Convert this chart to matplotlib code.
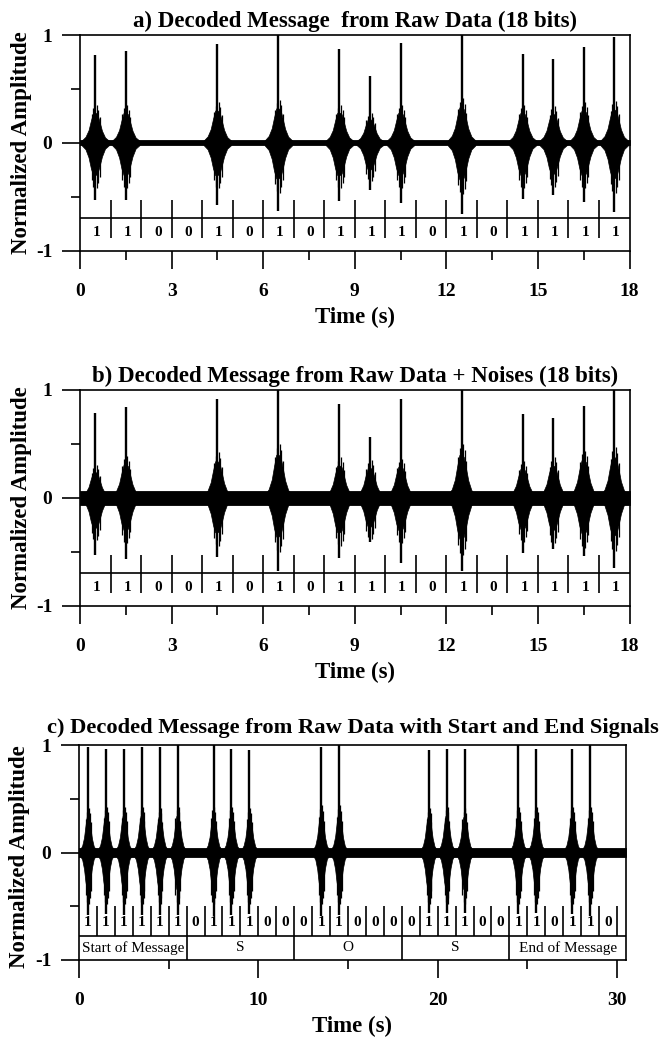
import matplotlib
matplotlib.use("Agg")
import matplotlib.pyplot as plt
import numpy as np

plt.rcParams['font.family'] = ['Liberation Serif', 'DejaVu Serif']
plt.rcParams['axes.unicode_minus'] = False

# ---------------- data ----------------
# panel a / b : 18-bit message
bits_ab = [1, 1, 0, 0, 1, 0, 1, 0, 1, 1, 1, 0, 1, 0, 1, 1, 1, 1]
spike_t_ab = [0.5, 1.5, 4.5, 6.5, 8.5, 9.5, 10.5, 12.5, 14.5, 15.5, 16.5, 17.5]

a_pos_peak = [0.81, 0.85, 0.92, 1.00, 0.87, 0.62, 0.93, 1.00, 0.82, 0.78, 0.89, 0.98]
a_neg_peak = [-0.53, -0.53, -0.58, -0.63, -0.54, -0.44, -0.56, -0.66, -0.52, -0.48, -0.55, -0.64]
a_body_up = [0.28, 0.28, 0.30, 0.32, 0.28, 0.22, 0.28, 0.33, 0.28, 0.27, 0.30, 0.31]
a_body_low = [-0.30, -0.30, -0.30, -0.33, -0.30, -0.25, -0.30, -0.34, -0.30, -0.29, -0.30, -0.33]
a_noise = 0.022

b_pos_peak = [0.79, 0.84, 0.92, 1.00, 0.87, 0.56, 0.92, 1.00, 0.78, 0.74, 0.85, 1.00]
b_neg_peak = [-0.53, -0.57, -0.55, -0.68, -0.56, -0.41, -0.60, -0.68, -0.51, -0.47, -0.54, -0.65]
b_body_up = [0.24, 0.31, 0.34, 0.40, 0.30, 0.28, 0.29, 0.40, 0.27, 0.30, 0.35, 0.38]
b_body_low = [-0.28, -0.30, -0.32, -0.36, -0.32, -0.27, -0.30, -0.38, -0.29, -0.30, -0.33, -0.35]
b_noise = 0.065

# panel c : 30-bit message with start / end signals
bits_c = [1, 1, 1, 1, 1, 1,
          0, 1, 1, 1, 0, 0,
          0, 1, 1, 0, 0, 0,
          0, 1, 1, 1, 0, 0,
          1, 1, 0, 1, 1, 0]
spike_t_c = [0.5, 1.5, 2.5, 3.5, 4.5, 5.5, 7.5, 8.5, 9.5, 13.5, 14.5,
             19.5, 20.5, 21.5, 24.5, 25.5, 27.5, 28.5]
c_pos_peak = [0.98, 0.96, 0.96, 0.98, 0.98, 1.00, 1.00, 0.96, 0.95, 0.98, 1.00,
              0.95, 0.96, 0.96, 1.00, 0.96, 0.96, 1.00]
c_neg_peak = [-0.58, -0.57, -0.58, -0.58, -0.58, -0.58, -0.59, -0.58, -0.57, -0.59, -0.58,
              -0.56, -0.56, -0.56, -0.57, -0.56, -0.57, -0.59]
c_body_up = [0.33, 0.34, 0.34, 0.34, 0.33, 0.34, 0.34, 0.34, 0.33, 0.35, 0.35,
             0.33, 0.34, 0.33, 0.34, 0.34, 0.34, 0.34]
c_body_low = [-0.34, -0.34, -0.34, -0.34, -0.34, -0.34, -0.34, -0.34, -0.34, -0.34, -0.34,
              -0.34, -0.34, -0.34, -0.34, -0.34, -0.34, -0.34]
c_noise = 0.04
msg_labels = ["Start of Message", "S", "O", "S", "End of Message"]
msg_edges = [0, 6, 12, 18, 24, 30.5]

# burst envelope template (offset in s, relative level)
tmpl_off = [-0.45, -0.32, -0.22, -0.14, -0.07, 0.0, 0.07, 0.14, 0.22, 0.32, 0.45]
tmpl_up = [0.07, 0.20, 0.42, 0.75, 1.00, 1.00, 0.95, 0.70, 0.40, 0.18, 0.07]
tmpl_low = [0.07, 0.20, 0.45, 0.80, 1.00, 1.00, 0.95, 0.72, 0.42, 0.18, 0.07]
# secondary comb spikes within a burst (offset in s, relative level)
sub_off = [-0.12, -0.06, 0.05, 0.10, 0.15]
sub_up = [0.95, 1.15, 1.25, 1.10, 0.85]
sub_low = [1.15, 1.35, 1.40, 1.25, 1.05]

titles = ["a) Decoded Message  from Raw Data (18 bits)",
          "b) Decoded Message from Raw Data + Noises (18 bits)",
          "c) Decoded Message from Raw Data with Start and End Signals"]

# ---------------- figure ----------------
W, H = 663, 1037
fig = plt.figure(figsize=(W / 100, H / 100), dpi=100)


def frac(l, t, r, b):
    return [l / W, 1 - b / H, (r - l) / W, (b - t) / H]


ax_a = fig.add_axes(frac(80, 35, 629.5, 250.7))
ax_b = fig.add_axes(frac(80, 390, 629.5, 605.7))
ax_c = fig.add_axes(frac(79, 745, 626, 960))

TICKFS = 14
TITLEFS = 16.5


def draw_signal(ax, xmax, spikes, pos, neg, up, low, noise):
    ax.fill_between([0, xmax], [-noise, -noise], [noise, noise], color='k', lw=0.6)
    off = np.array(tmpl_off)
    for t, p, n, u, l in zip(spikes, pos, neg, up, low):
        ax.fill_between(t + off, l * np.array(tmpl_low), u * np.array(tmpl_up),
                        color='k', lw=0.5)
        ax.vlines(t + np.array(sub_off), l * np.array(sub_low), u * np.array(sub_up),
                  color='k', lw=0.9)
        ax.vlines([t], [n], [p], color='k', lw=1.7)


def style_axes(ax, xmax, major, minor, title, title_pad=6, title_fs=TITLEFS):
    ax.set_xlim(0, xmax)
    ax.set_ylim(-1, 1)
    ax.set_xticks(major)
    ax.set_xticks(minor, minor=True)
    ax.set_yticks([-1, 0, 1])
    ax.set_yticks([-0.5, 0.5], minor=True)
    ax.set_yticklabels(["-1", "0", "1"])
    ax.set_xticklabels([str(v) for v in major])
    ax.tick_params(which='major', direction='out', length=13, width=1.2,
                   labelsize=TICKFS, pad=7)
    ax.tick_params(which='minor', direction='out', length=6.5, width=1.2)
    ax.tick_params(axis='x', which='major', pad=10)
    for lab in ax.get_xticklabels() + ax.get_yticklabels():
        lab.set_fontweight('bold')
    for s in ax.spines.values():
        s.set_linewidth(1.2)
    ax.set_title(title, fontsize=title_fs, fontweight='bold', pad=title_pad)
    ax.set_xlabel("Time (s)", fontsize=TITLEFS, fontweight='bold')
    ax.set_ylabel("Normalized Amplitude", fontsize=TITLEFS, fontweight='bold')
    ax.xaxis.set_label_coords(0.5, -0.26)
    ax.yaxis.set_label_coords(-0.088, 0.5)


# panels a and b
for ax, pos, neg, up, low, noise, title in [
        (ax_a, a_pos_peak, a_neg_peak, a_body_up, a_body_low, a_noise, titles[0]),
        (ax_b, b_pos_peak, b_neg_peak, b_body_up, b_body_low, b_noise, titles[1])]:
    draw_signal(ax, 18, spike_t_ab, pos, neg, up, low, noise)
    ax.hlines([-0.70], 0, 18, color='k', lw=1.2)
    n = len(bits_ab)
    ax.vlines(np.arange(1, n), -0.88, -0.53, color='k', lw=1.2)
    for i, bt in enumerate(bits_ab):
        ax.text(i + 0.55, -0.835, str(bt), ha='center', va='center',
                fontsize=11, fontweight='bold')
    style_axes(ax, 18, list(range(0, 19, 3)), [1.5 + 3 * k for k in range(6)], title)

# panel c
draw_signal(ax_c, 30.5, spike_t_c, c_pos_peak, c_neg_peak, c_body_up, c_body_low, c_noise)
ax_c.hlines([-0.775], 0, 30.5, color='k', lw=1.2)
ax_c.vlines(np.arange(1, len(bits_c) + 1), -0.775, -0.50, color='k', lw=1.2)
for i, bt in enumerate(bits_c):
    ax_c.text(i + 0.5, -0.655, str(bt), ha='center', va='center',
              fontsize=11, fontweight='bold')
ax_c.vlines(msg_edges[1:-1], -1, -0.775, color='k', lw=1.2)
for k, lab in enumerate(msg_labels):
    ax_c.text((msg_edges[k] + msg_edges[k + 1]) / 2, -0.885, lab, ha='center',
              va='center', fontsize=11)
style_axes(ax_c, 30.5, [0, 10, 20, 30], [5, 15, 25], titles[2],
           title_pad=9, title_fs=16.2)
ax_c.yaxis.set_label_coords(-0.090, 0.48)

fig.savefig("out.png", dpi=100)
